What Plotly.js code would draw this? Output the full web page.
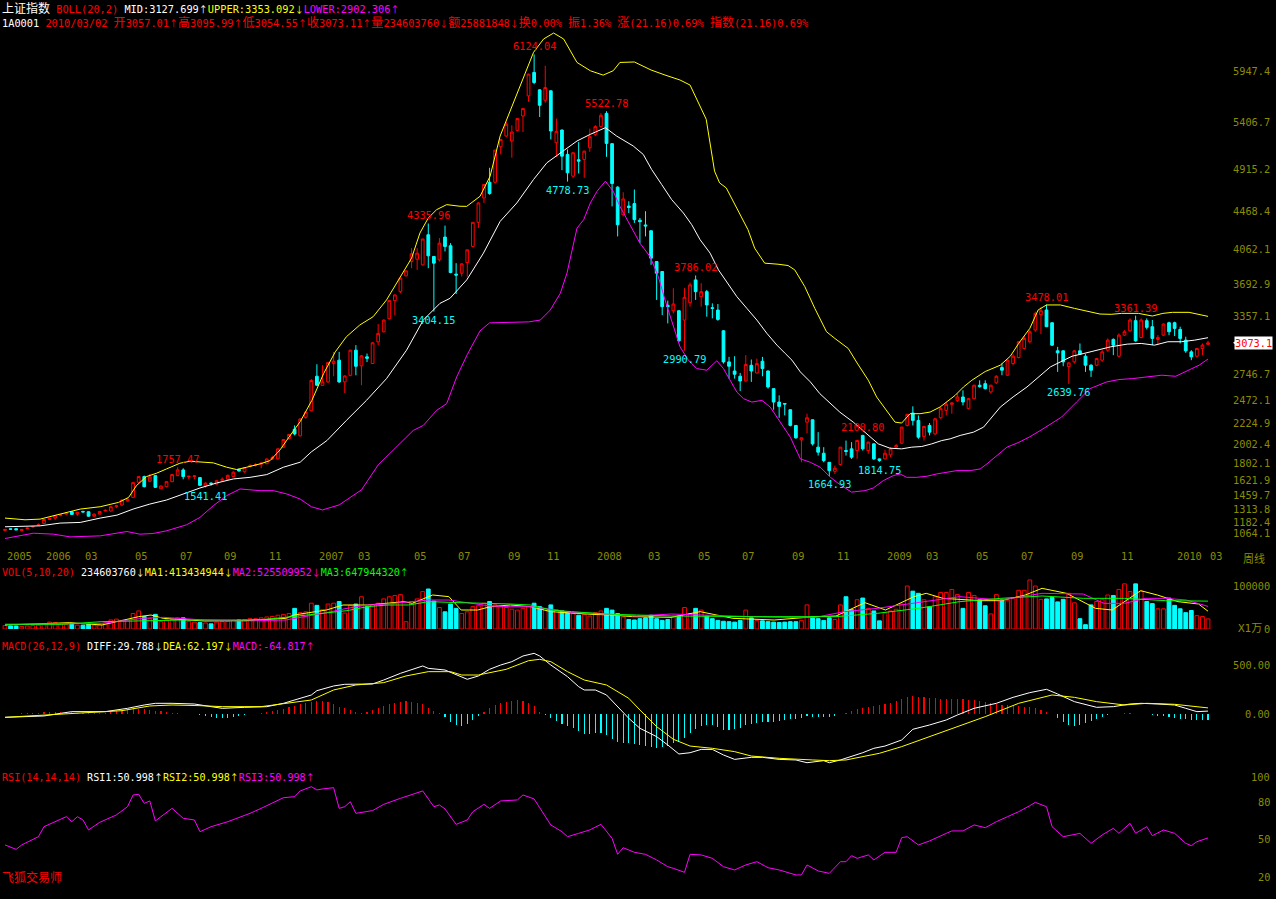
<!DOCTYPE html>
<html><head><meta charset="utf-8">
<script src="https://cdn.plot.ly/plotly-3.0.1.min.js"></script>
<style>html,body{margin:0;padding:0;background:#000;}#chart{width:1276px;height:899px;}</style>
</head><body><div id="chart"></div><script>
// ===== weekly candles (上证指数 1A0001) =====
const opens = [1090,1106,1108,1088,1108,1125,1148,1163,1205,1220, 1250,1262,1287,1262,1290,1287,1240,1262,1295,1295, 1340,1358,1400,1439,1598,1659,1609,1669,1530,1552, 1605,1669,1729,1655,1660,1648,1560,1590,1580,1620, 1630,1660,1736,1710,1765,1780,1790,1795,1845,1846, 1970,2060,2160,2090,2285,2355,2720,2624,2660,2854, 2890,2660,2730,2996,2830,2925,2855,3084,3190,3329, 3520,3615,3782,3934,3958,3898,4217,3987,3952,4192, 4100,3800,3810,3923,4093,4348,4606,4772,4772,5147, 5261,5208,5321,5473,5685,5933,5749,5639,5739,5190, 5324,5066,4836,5010,5013,5137,5278,5360,5500,5180, 4720,4429,4520,4546,4370,4320,4259,3934,3828,3470, 3413,3413,3314,3498,3739,3562,3615,3445,3420,3201, 2872,2776,2720,2670,2836,2755,2879,2776,2589,2447, 2432,2366,2200,2047,2235,2260,1970,1906,1810,1715, 1786,1935,1952,1934,2094,1934,2005,1846,1846,1888, 1970,2012,2200,2331,2253,2083,2200,2111,2281,2359, 2423,2465,2501,2377,2483,2625,2642,2554,2650,2812, 2731,2854,2918,3014,3085,3209,3372,3421,3286,2989, 2989,2822,2872,2989,2932,2837,2837,2890,2996,3110, 2932,3155,3201,3308,3130,3308,3244,3109,3155,3286, 3286,3215,3102,2978,2932,3014,3057.01];
const highs = [1103,1108,1110,1106,1117,1135,1163,1208,1222,1251, 1262,1280,1295,1285,1298,1290,1268,1295,1315,1345, 1360,1415,1430,1600,1665,1669,1687,1672,1565,1610, 1685,1757.47,1747,1669,1672,1655,1598,1598,1620,1651, 1680,1715,1740,1760,1790,1800,1815,1850,1880,1960, 2055,2110,2200,2275,2345,2690,2847,2837,2870,2978, 2978,2730,3000,3049,2945,2960,3080,3272,3320,3525, 3585,3760,3840,4075,4075,4175,4335.96,3990,4182,4313, 4128,3916,3915,4060,4350,4560,4752,4925,5115,5230, 5410,5374,5450,5555,5920,6124.04,5755,6004,5745,5445, 5330,5119,5090,5197,5105,5339,5374,5502,5522.78,5185, 4730,4666,4571,4695,4394,4465,4262,3935,3830,3520, 3651,3420,3651,3711,3786.02,3704,3633,3491,3484,3208, 2925,2932,2755,2943,2897,2907,2925,2780,2590,2518, 2437,2370,2202,2075,2324,2262,2129,1970,1812,1775, 1972,2040,2023,2045,2100.80,2030,2010,1850,1942,1970, 2005,2186,2324,2402,2306,2195,2225,2280,2395,2448, 2448,2536,2571,2490,2630,2677,2677,2630,2730,2855, 2895,2954,3090,3145,3208,3403,3454,3478.01,3290,3031, 2996,2870,2996,3067,2954,2847,2910,2996,3120,3120, 3173,3208,3332,3361.39,3332,3332,3315,3155,3279,3297, 3297,3244,3138,2996,3020,3067,3095.99];
const lows = [1078,1100,1092,1078,1105,1120,1142,1160,1200,1200, 1238,1255,1255,1244,1280,1235,1235,1258,1290,1290, 1326,1350,1395,1435,1590,1545,1600,1538,1528,1545, 1600,1665,1630,1630,1630,1560,1541.41,1562,1575,1610, 1625,1655,1712,1700,1755,1765,1747,1790,1835,1840, 1965,2050,2095,2085,2270,2350,2620,2620,2650,2720, 2650,2543,2720,2730,2625,2870,2850,3049,3185,3320, 3364,3600,3775,3863,3845,3890,3863,3404.15,3934,4040, 3810,3590,3775,3774,4085,4287,4553,4640,4760,5066, 5250,5031,5310,5303,5622,5809,5462,5615,5225,5041, 4900,4778.73,4818,4864,4818,5094,5260,5350,5041,4517, 4199,4411,4447,4341,4128,4199,3898,3527,3367,3279, 3385,3084,2990.79,3456,3527,3456,3350,3332,3307,2854, 2695,2695,2564,2667,2660,2748,2720,2589,2366,2281, 2306,2189,2058,1810,2118,1987,1881,1810,1664.93,1686, 1775,1881,1846,1846,1934,1899,1835,1814.75,1840,1864, 1952,2005,2189,2200,2058,2040,2094,2100,2270,2306, 2324,2448,2412,2370,2475,2600,2580,2536,2640,2731, 2725,2837,2910,3000,3067,3191,3165,3240,3040,2766, 2826,2639.76,2854,2943,2766,2713,2826,2872,2978,2943, 2918,3145,3191,3085,3120,3215,3049,3049,3145,3155, 3145,3067,2968,2890,2918,2943,3054.55];
const closes = [1100,1102,1095,1100,1114,1131,1152,1205,1218,1244, 1255,1273,1259,1280,1285,1240,1262,1290,1300,1340, 1350,1411,1420,1595,1659,1552,1655,1545,1559,1605, 1680,1730,1659,1662,1666,1566,1590,1585,1615,1630, 1672,1705,1718,1755,1775,1785,1800,1845,1860,1952, 2051,2105,2110,2268,2340,2675,2625,2660,2865,2879, 2660,2723,2996,2826,2936,2910,3074,3173,3314,3520, 3580,3757,3835,4015,4022,4171,3994,3916,4128,4093, 3817,3790,3909,4057,4348,4553,4748,4652,5112,5225, 5385,5303,5445,5551,5915,5827,5586,5774,5314,5310, 5048,4872,5084,4995,5101,5254,5360,5480,5183,4758, 4323,4595,4505,4376,4355,4310,3969,3810,3456,3456, 3484,3095,3555,3686,3615,3615,3474,3438,3321,2872, 2826,2741,2670,2844,2776,2854,2801,2607,2447,2401, 2426,2200,2069,2069,2281,2005,1917,1828,1722,1747, 1970,1925,1864,2041,1952,2023,1846,1830,1906,1952, 1987,2182,2317,2253,2076,2189,2129,2270,2377,2423, 2437,2501,2448,2483,2625,2610,2589,2625,2720,2784, 2890,2932,3085,3120,3191,3385,3412,3244,3049,2968, 2872,2861,2989,2954,2837,2784,2907,2978,3102,3049, 3155,3191,3315,3095,3315,3237,3120,3130,3272,3191, 3226,3120,2989,2925,3014,3049,3073.11];
// weekly volume, unit 万 shares
const volume = [8000,7000,7000,6000,7000,8000,9000,12000,16000,15000, 12000,10000,13000,9000,9000,11000,9000,10000,14000,21000, 23000,20000,22000,36000,42000,29000,24000,34000,17000,21000, 22000,26000,26000,18000,16000,15000,14000,12000,16000,17000, 18000,20000,21000,22000,24000,24000,26000,28000,29000,32000, 34000,36000,48000,38000,40000,60000,55000,45000,58000,60000, 64000,37000,55000,58000,75000,52000,56000,60000,70000,75000, 78000,80000,17000,64000,70000,87000,93000,65000,50000,40000, 58000,48000,36000,40000,52000,54000,60000,64000,56000,52000, 50000,46000,44000,48000,52000,60000,52000,48000,56000,45000, 42000,40000,36000,32000,34000,30000,38000,42000,48000,44000, 36000,28000,22000,21000,24000,26000,32000,24000,20000,22000, 28000,30000,50000,36000,48000,44000,30000,24000,20000,18000, 17000,16000,20000,44000,26000,20000,19000,17000,16000,15000, 16000,17000,17000,20000,56000,28000,24000,20000,26000,22000, 56000,75000,45000,68000,72000,48000,42000,19000,38000,42000, 46000,58000,100000,88000,83000,68000,52000,75000,85000,85000, 92000,80000,48000,85000,78000,68000,54000,35000,80000,68000, 67000,72000,90000,90000,114000,100000,69000,70000,73000,63000, 69000,83000,61000,24000,10000,56000,64000,68000,79000,78000, 92000,105000,87000,105000,88000,64000,59000,47000,47000,72000, 55000,47000,38000,43000,31000,29000,23460];
// MACD histogram per week
const macdBar = [0,0,5,8,10,12,15,18,20,22, 20,20,18,15,12,10,10,12,15,20, 30,40,50,58,55,50,42,35,28,20, 15,10,5,0,-5,-15,-25,-35,-40,-42, -40,-35,-25,-15,-5,0,10,20,30,40, 55,70,85,100,115,126,136,130,120,100, 75,60,40,20,10,20,40,60,80,100, 115,126,130,126,115,100,60,30,10,-30, -80,-110,-122,-100,-60,-20,20,60,90,110, 126,135,143,135,110,80,20,-10,-40,-70, -100,-120,-140,-170,-200,-200,-190,-190,-210,-250, -290,-300,-300,-310,-320,-330,-340,-345,-340,-330, -300,-290,-240,-190,-150,-120,-110,-110,-130,-160, -160,-150,-140,-110,-100,-90,-80,-80,-80,-75, -60,-55,-50,-40,-25,-30,-35,-30,-30,-20, 0,10,30,50,60,75,85,95,100,110, 130,150,170,180,175,170,165,160,155,150, 150,155,150,145,140,130,120,110,100,95, 90,85,80,75,70,60,45,25,0,-40, -80,-110,-122,-110,-90,-70,-50,-30,-10,0, 5,10,10,5,0,-5,-10,-20,-25,-30, -40,-50,-55,-60,-60,-62,-64.817];

// BOLL(20,2) lines read at sampled weeks
const bollUpAt = [0,3.6,6.3,9.9,13.5,17.1,20.4,22.2,23.6,25.4,27.2,29,31.4,33.2,35,37.4,39.8,41.6,43.4,45.8,47.6,49.4,50.6,53,55.1,57.2,59.3,61.3,63.7,66.1,68.5,70.9,73,74.5,76,77.5,79.3,81.7,82.9,85.3,87.1,88.9,91.3,93.1,94.9,96.7,98.5,100.3,102.7,105.1,107.4,109.2,110.4,113,116,118.5,121.2,123,124.2,125.9,127.4,128.3,129.5,131.6,133.4,134.6,136.4,138.8,140.6,141.8,143.6,145.4,147.5,149,151.4,153,155,156.5,158,159.8,161,162.5,164.3,166.1,167.9,169.1,170.6,172.1,173.6,176,178.7,180.5,182,184,185.5,187,189.5,192,194,196.6,198.6,200.5,203.5,206,207.9,209.6,212.6,214.4,216];
const bollUp = [1220,1202,1209,1262,1315,1340,1386,1439,1563,1659,1694,1740,1800,1821,1811,1804,1758,1733,1758,1793,1828,1942,2044,2240,2465,2748,2978,3138,3262,3350,3527,3757,3969,4235,4394,4482,4535,4518,4517,4624,4836,5261,5615,5898,6146,6287,6350,6287,6039,5951,5905,5951,6039,6044,5959,5906,5853,5800,5650,5438,4889,4765,4712,4482,4270,4075,3916,3905,3891,3845,3668,3438,3191,3120,3014,2860,2678,2501,2377,2235,2225,2324,2324,2341,2395,2448,2518,2607,2678,2770,2837,2932,3067,3226,3421,3474,3474,3438,3414,3378,3375,3385,3385,3357,3385,3396,3396,3375,3353.092];
const bollMidAt = [0,6.3,9.9,13.5,17.1,20.1,23,26,29,32,35,38,41,44,47,50,53,55,57.8,61.3,64.9,68.5,72.1,75.1,78.1,79.9,82.9,85.9,88.9,91.9,94.9,97.3,99.7,102.7,105.1,107.8,109.8,112.8,114.6,116.1,117.9,119.7,121.8,123.3,124.8,126.6,128.1,129.6,131.4,133.2,135,136.8,138.6,140.1,141.3,142.8,144.6,146.3,148.2,149.9,152.3,154.7,156.8,158.9,161,162.8,164.6,166.4,168.2,169.7,171.5,173.9,175.7,178.7,181,183.5,185.9,187.7,189.5,191.6,193.7,196.1,198.5,201.5,204,206.4,208.8,211.2,213.6,216];
const bollMid = [1128,1138,1167,1174,1220,1251,1315,1368,1411,1475,1538,1591,1634,1651,1680,1758,1811,1920,2040,2253,2465,2695,2996,3314,3491,3544,3739,4022,4358,4553,4801,4978,5084,5208,5279,5349,5261,5155,5066,4907,4748,4588,4447,4323,4164,4022,3845,3721,3562,3438,3314,3173,3049,2960,2890,2766,2660,2536,2430,2340,2235,2111,2005,1959,1952,1970,1977,2005,2040,2058,2094,2129,2182,2394,2501,2607,2731,2819,2872,2932,2961,2996,3031,3060,3067,3049,3085,3085,3102,3127.699];
const bollLowAt = [0,2.7,5.1,8.7,11.7,17.1,21.9,24.2,26.6,29,32.6,35,37.4,39.8,42.2,45.8,48.2,50.6,53,55,57,60,64,67,71.5,73.3,75.1,77.5,79.3,81.1,83,85.3,87,90,94,96.1,97.9,99.7,100.9,102.7,103.9,105.1,106.3,107.8,109.2,110.4,112.2,114,115.8,117.3,118.5,119.7,121.2,122.7,124.2,126,127.8,129,130.2,131.4,132.6,134.1,135.9,137.4,139.2,141,142.8,144.6,146.4,148.2,150,152,154.4,155.9,157.7,159.5,160.7,161.9,163.7,165.5,167.3,169.1,170.9,173.3,175.1,176.3,178.1,179.9,182,184,186,188,189.7,192.4,194.8,197.8,200,202.4,205.5,207.7,210.2,212.5,214.4,216];
const bollLow = [1004,1032,1060,1050,1021,1032,1078,1050,1057,1085,1149,1227,1351,1457,1528,1510,1510,1475,1421,1340,1306,1359,1518,1782,2040,2147,2200,2359,2430,2713,2950,3200,3285,3290,3295,3314,3420,3597,3810,4287,4376,4553,4677,4783,4677,4518,4323,4128,3987,3775,3527,3314,3031,2890,2801,2784,2883,2801,2677,2553,2483,2447,2465,2394,2235,2076,1846,1810,1757,1651,1570,1495,1510,1538,1616,1669,1687,1651,1651,1662,1687,1704,1722,1722,1740,1793,1881,1970,2020,2080,2150,2220,2288,2448,2589,2660,2685,2695,2713,2731,2720,2784,2837,2902.306];

// VOL(5,10,20) moving-average lines, sampled
const vma1At = [0,11.6,17.4,24,26.2,28.4,35.8,43.1,50.4,51.9,57.7,60.7,65.1,68.7,71.7,73.1,76.8,79.7,81.9,84.9,87.1,90.7,94.4,98,101.7,105.4,109,112.7,119.6,124.8,130.7,138.1,145.5,149.2,154.4,158.1,163.2,165.4,168.4,175.1,178.8,183.2,186.2,190.6,195.8,198.8,203.9,206.9,210.6,214.3,216];
const vma1 = [9300,14725,9300,28675,32550,24800,18600,19375,24800,32550,44175,55800,55800,59675,63550,59675,79050,75175,44175,44175,51925,55800,51925,40300,36425,34100,32550,28675,27125,40300,24800,20925,28675,30225,61225,44175,75175,82925,71300,65875,65875,79050,94550,82925,48050,44175,89125,79050,63550,58125,41343];
const vma2At = [0,17.4,24.7,28.4,35.8,43.1,50.4,54.1,57.7,61.4,65.1,68.7,72.4,76.1,79.7,83.4,87.1,90.7,94.4,98,101.7,105.4,109,113.4,119.6,130.7,138.1,145.5,150.7,156.6,164,171.4,178.8,186.2,193.6,197.3,201,204.7,208.4,212.1,216];
const vma2 = [10850,13175,24800,27125,20925,18600,20925,28675,37975,48050,55800,58125,63550,67425,67425,59675,53475,51925,51925,45725,38750,36425,34100,30225,34875,31000,27125,27125,40300,48050,61225,75175,67425,82925,81375,59675,59675,71300,71300,67425,52551];
const vma3At = [0,10.1,17.4,24.7,32.1,43.1,46.7,50.4,54.1,57.7,61.4,65.1,68.7,72.4,76.1,79.7,83.4,87.1,90.7,94.4,98,101.7,105.4,109,113.4,119.6,134.4,149.2,156.6,164,171.4,178.8,186.2,193.6,201,208.4,216];
const vma3 = [10850,10850,17050,19375,20925,20925,22475,27125,32550,36425,42625,51925,55800,55800,63550,62000,61225,59675,58125,55800,44175,40300,36425,34100,32550,30225,28675,28675,36425,48050,63550,71300,76725,71300,71300,65875,64794];

// MACD(26,12,9) DIFF and DEA, sampled
const diffAt = [0,7,10,12,18,22,25,27,30,34,37,39,43,47,50,52,55,56,59,61,66,68,71,75,76,79,81,83,85,87,89,91,93,95,96,98,101,103,104,106,108,110,112,114,117,119,121,123,125,127,129,131,134,136,139,142,144,147,148,150,152,154,156,158,161,163,166,169,171,174,178,181,184,187,189,192,196,199,202,204,207,210,212,214,216];
const diff = [-34,-20,7,24,24,58,92,109,109,102,75,58,68,75,109,143,194,238,286,303,306,347,415,490,466,449,405,354,388,456,500,534,592,619,592,500,381,279,245,245,194,75,-44,-146,-231,-316,-408,-395,-361,-361,-418,-463,-442,-442,-463,-469,-497,-476,-497,-469,-435,-395,-350,-327,-265,-156,-112,-61,-10,58,109,170,218,252,204,126,68,75,102,109,102,92,58,24,29.788];
const deaAt = [0,8,14,21,26,30,35,39,46,50,55,59,63,68,72,76,80,82,85,90,94,96,98,101,104,108,112,114,117,120,123,127,131,134,139,145,148,151,154,157,161,166,171,176,182,188,192,196,201,205,210,213,216];
const dea = [-34,-10,14,34,82,92,85,75,75,102,143,245,296,320,388,432,432,398,398,456,544,558,534,432,347,296,160,41,-129,-258,-327,-350,-384,-429,-452,-469,-476,-469,-435,-401,-333,-231,-136,-27,109,194,170,126,92,109,99,82,62.197];

// RSI(14) sampled
const rsiAt = [0,2,3,6,7,9,11,12,13,14,15,17,20,22,23,24,25,26,27,28,30,32,34,35,37,40,42,44,46,48,50,52,53,55,56,57,59,60,61,62,63,66,68,71,73,75,77,78,79,81,83,84,86,87,89,92,93,95,96,98,100,101,103,105,107,109,110,111,113,115,117,119,120,122,123,125,127,129,131,133,135,137,139,142,143,144,146,148,150,151,152,153,155,156,158,160,161,162,164,166,169,170,172,174,176,178,180,182,184,185,187,188,190,193,195,197,199,200,202,203,205,206,208,210,212,213,214,216];
const rsi = [45.4,41.9,45.4,52,60,64,68,64,68,65.4,57.4,63.5,69.4,76,85.4,85.9,78.7,80.6,64.6,68,74.7,66.7,65.4,56,60,64,67.2,70.7,74.7,78.7,83.2,84,88.6,92,89.4,90.2,91.2,74.7,76,80,70.7,72.9,77.9,82.7,85.4,88.6,76,77.4,74.2,61.9,65.4,72,77.9,74.7,80.6,81.4,85.4,82.2,75.2,61.4,56,52,54.7,57.4,61.9,50.7,37.9,43.2,39.5,37.9,33.4,28,26.7,23.5,37.9,37.4,34.7,28,25.4,29.4,32,27.2,25.4,21.4,21.4,29.4,24.6,22.7,32,32,36.8,34.7,37.4,33.4,39.5,39.5,51.2,52,45.4,48.6,54.7,56.6,56.6,61.4,59.2,64,68,72,76.8,79.5,76,60,52,54.7,46.7,53.4,58.7,54.7,62.7,54.7,60,52.8,57.4,54.7,46.7,44.8,48,50.998];

// axis tick labels
const priceTicks = [5947.4,5406.7,4915.2,4468.4,4062.1,3692.9,3357.1,2746.7,2472.1,2224.9,2002.4,1802.1,1621.9,1459.7,1313.8,1182.4,1064.1];
const xTickText = ['2005','2006','03','05','07','09','11','2007','03','05','07','09','11','2008','03','05','07','09','11','2009','03','05','07','09','11','2010','03'];
const xTickAt = [0,7,14,23,31,39,47,56,63,73,81,90,97,106,115,124,132,141,149,158,165,174,182,191,200,210,216];
// marked highs / lows
const markAt = [31,36,76,77,95,101,108,122,124,148,154,157,187,191,203];
const markKind = ['H','L','H','L','H','L','H','L','H','L','H','L','H','L','H'];

// ===== drawing =====
const RED='#ff0000', CYAN='#00ffff', YEL='#ffff00', MAG='#ff00ff', WHITE='#ffffff', GREEN='#00ff00', OLIVE='#8c8c00';
const MONO='DejaVu Sans Mono, Noto Sans CJK SC, monospace';
const H=899, PW=1220;
const dom=(top,bot)=>[1-bot/H, 1-top/H];
const idx = closes.map((_,i)=>i);
const up = closes.map((c,i)=>c>=opens[i]);

const traces = [];
traces.push({type:'candlestick', x:idx, open:opens, high:highs, low:lows, close:closes, xaxis:'x', yaxis:'y',
  increasing:{line:{color:RED,width:1}, fillcolor:'#000000'},
  decreasing:{line:{color:CYAN,width:1}, fillcolor:CYAN}, whiskerwidth:0, hoverinfo:'skip', showlegend:false});
const line=(x,y,color,ax)=>({type:'scatter',mode:'lines',x:x,y:y,yaxis:ax,line:{color:color,width:1},hoverinfo:'skip',showlegend:false});
traces.push(line(bollUpAt,bollUp,YEL,'y'));
traces.push(line(bollMidAt,bollMid,WHITE,'y'));
traces.push(line(bollLowAt,bollLow,MAG,'y'));
traces.push({type:'bar', x:idx, y:volume, yaxis:'y2', width:0.68,
  marker:{color:up.map(u=>u?'#000000':CYAN), line:{color:up.map(u=>u?RED:CYAN), width:1}}, hoverinfo:'skip', showlegend:false});
traces.push(line(vma1At,vma1,YEL,'y2'));
traces.push(line(vma2At,vma2,MAG,'y2'));
traces.push(line(vma3At,vma3,GREEN,'y2'));
traces.push({type:'bar', x:idx, y:macdBar, yaxis:'y3', width:0.2,
  marker:{color:macdBar.map(v=>v>=0?RED:CYAN), line:{width:0}}, hoverinfo:'skip', showlegend:false});
traces.push(line(diffAt,diff,WHITE,'y3'));
traces.push(line(deaAt,dea,YEL,'y3'));
traces.push(line(rsiAt,rsi,MAG,'y4'));

const ann = [];
const A=(o)=>ann.push(Object.assign({showarrow:false, font:{family:MONO,size:10.3,color:OLIVE}}, o));
// coloured header runs: CJK glyphs a bit larger, arrows from the CJK font (full-height arrows)
const sp=(c,t)=>{
  let out=''; const re=/([\u4e00-\u9fff]+)|([↑↓]+)|([^\u4e00-\u9fff↑↓]+)/g; let m;
  while((m=re.exec(t))){
    if(m[1]) out+=`<span style="color:${c};font-family:'Noto Sans CJK SC';font-size:12px">${m[1]}</span>`;
    else if(m[2]) out+=`<span style="color:${c};font-family:'Noto Sans CJK SC';font-size:9px">${m[2]}</span>`;
    else out+=`<span style="color:${c}">${m[3]}</span>`;
  }
  return out;
};
A({xref:'paper',yref:'paper',x:0,y:1-7/H,xanchor:'left',yanchor:'middle',
  text:sp(WHITE,'上证指数 ')+sp(RED,'BOLL(20,2) ')+sp(WHITE,'MID:3127.699↑')+sp(YEL,'UPPER:3353.092↓')+sp(MAG,'LOWER:2902.306↑')});
A({xref:'paper',yref:'paper',x:0,y:1-21/H,xanchor:'left',yanchor:'middle',
  text:sp(WHITE,'1A0001 ')+sp(RED,'2010/03/02 开3057.01↑高3095.99↑低3054.55↑收3073.11↑量234603760↓额25881848↓换0.00% 振1.36% 涨(21.16)0.69% 指数(21.16)0.69%')});
const A2=(o)=>A(Object.assign({font:{family:MONO,size:10.1,color:OLIVE}},o));
A2({xref:'paper',yref:'paper',x:0,y:1-572/H,xanchor:'left',yanchor:'middle',
  text:sp(RED,'VOL(5,10,20) ')+sp(WHITE,'234603760↓')+sp(YEL,'MA1:413434944↓')+sp(MAG,'MA2:525509952↓')+sp(GREEN,'MA3:647944320↑')});
A2({xref:'paper',yref:'paper',x:0,y:1-646/H,xanchor:'left',yanchor:'middle',
  text:sp(RED,'MACD(26,12,9) ')+sp(WHITE,'DIFF:29.788↓')+sp(YEL,'DEA:62.197↓')+sp(MAG,'MACD:-64.817↑')});
A2({xref:'paper',yref:'paper',x:0,y:1-777/H,xanchor:'left',yanchor:'middle',
  text:sp(RED,'RSI(14,14,14) ')+sp(WHITE,'RSI1:50.998↑')+sp(YEL,'RSI2:50.998↑')+sp(MAG,'RSI3:50.998↑')});
A({xref:'paper',yref:'paper',x:0,y:1-876/H,xanchor:'left',yanchor:'middle',text:'飞狐交易师',font:{family:'Noto Sans CJK SC',size:12,color:RED}});
// right price labels
const RX=1272/PW;
priceTicks.forEach(v=>A({xref:'paper',yref:'y',x:RX,y:v,xanchor:'right',yanchor:'middle',text:v.toFixed(1)}));
// current price box
A({xref:'paper',yref:'y',x:1273/PW,y:closes[closes.length-1],xanchor:'right',yanchor:'middle',text:closes[closes.length-1].toFixed(1),
  bgcolor:'#ffffff',borderpad:0,font:{family:MONO,size:10.3,color:RED}});
// x labels
xTickText.forEach((t,k)=>A({xref:'x',yref:'paper',x:xTickAt[k],y:1-556/H,xanchor:'left',yanchor:'middle',text:t}));
A({xref:'paper',yref:'paper',x:1267/PW,y:1-558/H,xanchor:'right',yanchor:'middle',text:'周线',font:{family:'Noto Sans CJK SC',size:11,color:OLIVE}});
// volume labels
A({xref:'paper',yref:'y2',x:RX,y:100000,xanchor:'right',yanchor:'middle',text:'100000'});
A({xref:'paper',yref:'paper',x:1236/PW,y:1-628/H,xanchor:'left',yanchor:'middle',text:'X1万',font:{family:MONO,size:11,color:OLIVE}});
A({xref:'paper',yref:'y2',x:RX,y:0,xanchor:'right',yanchor:'middle',text:'0'});
// MACD labels
[500,0].forEach(v=>A({xref:'paper',yref:'y3',x:RX,y:v,xanchor:'right',yanchor:'middle',text:v.toFixed(2)}));
// RSI labels
[100,80,50,20].forEach(v=>A({xref:'paper',yref:'y4',x:RX,y:v,xanchor:'right',yanchor:'middle',text:String(v)}));
// high / low marks
markAt.forEach((i,k)=>{
  const isH = markKind[k]==='H';
  A({xref:'x',yref:'y',x:i,y:isH?highs[i]:lows[i],xanchor:'center',yanchor:isH?'bottom':'top',
     text:(isH?highs[i]:lows[i]).toFixed(2),font:{family:MONO,size:10.3,color:isH?RED:CYAN}});
});

const shapes=[{type:'path',xref:'paper',yref:'y',
  path:`M ${1233/PW} ${closes[216]} L ${1240/PW} ${closes[216]+55} L ${1240/PW} ${closes[216]-55} Z`,
  fillcolor:'#ffffff',line:{width:0}}];

const ax={showgrid:false,zeroline:false,showline:false,showticklabels:false,ticks:''};
const layout={width:1276,height:899,paper_bgcolor:'#000',plot_bgcolor:'#000',
  margin:{l:0,r:56,t:0,b:0}, showlegend:false, hovermode:false,
  xaxis:Object.assign({},ax,{range:[-0.898,218.15],rangeslider:{visible:false},fixedrange:true}),
  yaxis:Object.assign({},ax,{domain:dom(25,547),range:[914.1,6435]}),
  yaxis2:Object.assign({},ax,{domain:dom(578,629),range:[0,118605]}),
  yaxis3:Object.assign({},ax,{domain:dom(645,768),range:[-551,704.1]}),
  yaxis4:Object.assign({},ax,{domain:dom(770,899),range:[2.16,105.36]}),
  annotations:ann, shapes:shapes, bargap:0};
Plotly.newPlot('chart',traces,layout,{displayModeBar:false,staticPlot:true});
</script></body></html>
